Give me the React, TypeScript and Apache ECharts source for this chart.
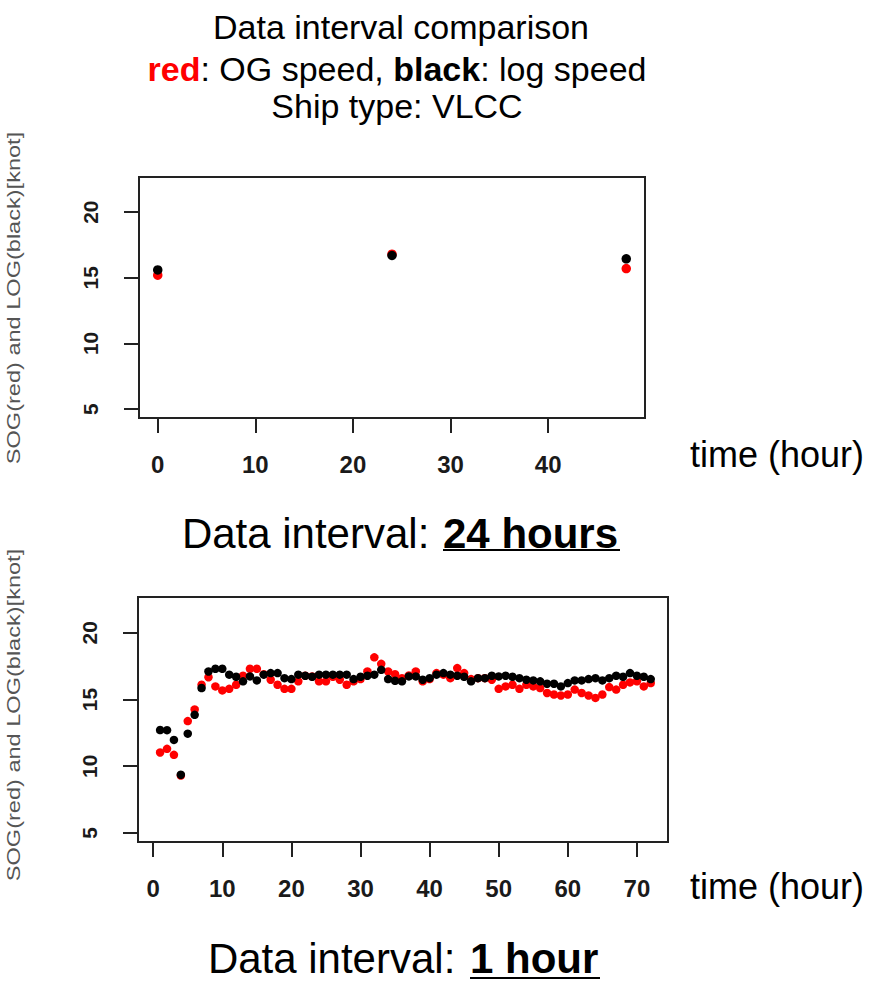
import React, { useEffect, useRef } from "react";
import * as echarts from "echarts";

// ---- data ----
const dailyHours = [0, 24, 48];
const dailySog = [15.2, 16.8, 15.7]; // red: over-ground speed
const dailyLog = [15.6, 16.7, 16.45]; // black: log speed

const hourlyHours = [
  1, 2, 3, 4, 5, 6, 7, 8, 9, 10, 11, 12, 13, 14, 15, 16, 17, 18, 19, 20, 21, 22, 23, 24,
  25, 26, 27, 28, 29, 30, 31, 32, 33, 34, 35, 36, 37, 38, 39, 40, 41, 42, 43, 44, 45, 46, 47, 48,
  49, 50, 51, 52, 53, 54, 55, 56, 57, 58, 59, 60, 61, 62, 63, 64, 65, 66, 67, 68, 69, 70, 71, 72,
];
const hourlySog = [
  11.03, 11.3, 10.85, 9.3, 13.38, 14.25, 16.1, 16.67, 15.98, 15.68, 15.8, 16.1,
  16.78, 17.3, 17.3, 16.9, 16.48, 16.1, 15.8, 15.8, 16.36, 16.78, 16.73, 16.36,
  16.36, 16.7, 16.48, 16.1, 16.36, 16.53, 17.1, 18.16, 17.67, 17.1, 16.9, 16.6,
  16.8, 17.1, 16.36, 16.53, 16.98, 16.86, 16.6, 17.35, 16.98, 16.53, 16.6, 16.6,
  16.48, 15.8, 15.98, 16.1, 15.8, 16.1, 15.98, 15.86, 15.49, 15.37, 15.3, 15.37,
  15.74, 15.49, 15.3, 15.12, 15.37, 15.93, 15.74, 16.1, 16.28, 16.36, 15.98, 16.23,
];
const hourlyLog = [
  12.71, 12.7, 11.97, 9.36, 12.44, 13.85, 15.86, 17.1, 17.3, 17.3, 16.86, 16.7,
  16.36, 16.73, 16.43, 16.86, 16.98, 16.98, 16.6, 16.53, 16.86, 16.78, 16.7, 16.86,
  16.86, 16.86, 16.86, 16.86, 16.53, 16.7, 16.78, 16.86, 17.22, 16.53, 16.4, 16.36,
  16.73, 16.73, 16.48, 16.6, 16.86, 16.98, 16.86, 16.78, 16.7, 16.36, 16.6, 16.6,
  16.78, 16.73, 16.78, 16.7, 16.6, 16.48, 16.43, 16.36, 16.18, 16.18, 15.98, 16.23,
  16.43, 16.43, 16.53, 16.6, 16.43, 16.6, 16.78, 16.7, 16.98, 16.78, 16.7, 16.53,
];

const dailyXTicks = [0, 10, 20, 30, 40];
const hourlyXTicks = [0, 10, 20, 30, 40, 50, 60, 70];
const yTicks = [5, 10, 15, 20];

const FONT = "'Liberation Sans', Arial, Helvetica, sans-serif";

const zip = (xs: number[], ys: number[]) => xs.map((x, i) => [x, ys[i]]);

function xAxis(gridIndex: number, min: number, max: number, ticks: number[]) {
  return {
    type: "value",
    gridIndex,
    min,
    max,
    axisLine: { show: true, onZero: false, lineStyle: { color: "#222", width: 2 } },
    axisTick: { show: true, inside: false, length: 15, customValues: ticks, lineStyle: { color: "#222", width: 2 } },
    axisLabel: {
      customValues: ticks,
      margin: 34,
      fontSize: 24,
      fontWeight: "bold",
      color: "#1a1a1a",
      fontFamily: FONT,
    },
    splitLine: { show: false },
  };
}

function yAxis(gridIndex: number) {
  return {
    type: "value",
    gridIndex,
    min: 4.32,
    max: 22.68,
    axisLine: { show: true, onZero: false, lineStyle: { color: "#222", width: 2 } },
    axisTick: { show: true, inside: false, length: 15, customValues: yTicks, lineStyle: { color: "#222", width: 2 } },
    axisLabel: {
      customValues: yTicks,
      rotate: 90,
      margin: 38,
      fontSize: 21,
      fontWeight: "bold",
      color: "#1a1a1a",
      fontFamily: FONT,
    },
    splitLine: { show: false },
  };
}

function textEl(text: string, x: number, y: number, size: number, extra: any = {}, el: any = {}) {
  return {
    type: "text",
    x,
    y,
    ...el,
    style: {
      text,
      fontSize: size,
      fontFamily: FONT,
      fill: "#000",
      textAlign: "center",
      textVerticalAlign: "middle",
      ...extra,
    },
  };
}

export default function App() {
  const ref = useRef<HTMLDivElement>(null);

  useEffect(() => {
    if (!ref.current) return;
    const chart = echarts.init(ref.current, null, { renderer: "svg" });

    const yName = "SOG(red) and LOG(black)[knot]";
    const option: any = {
      animation: false,
      backgroundColor: "#fff",
      grid: [
        { left: 139, top: 177, width: 506, height: 241, show: true, borderColor: "#222", borderWidth: 2, backgroundColor: "transparent" },
        { left: 138, top: 597, width: 530, height: 245, show: true, borderColor: "#222", borderWidth: 2, backgroundColor: "transparent" },
      ],
      xAxis: [
        xAxis(0, -1.92, 49.92, dailyXTicks),
        xAxis(1, -2.2, 74.5, hourlyXTicks),
      ],
      yAxis: [yAxis(0), yAxis(1)],
      series: [
        {
          name: "SOG daily",
          type: "scatter",
          xAxisIndex: 0,
          yAxisIndex: 0,
          symbolSize: 9.5,
          itemStyle: { color: "#ff0000", opacity: 1 },
          data: zip(dailyHours, dailySog),
        },
        {
          name: "LOG daily",
          type: "scatter",
          xAxisIndex: 0,
          yAxisIndex: 0,
          symbolSize: 9.5,
          itemStyle: { color: "#000000", opacity: 1 },
          data: zip(dailyHours, dailyLog),
        },
        {
          name: "SOG hourly",
          type: "scatter",
          xAxisIndex: 1,
          yAxisIndex: 1,
          symbolSize: 8.5,
          itemStyle: { color: "#ff0000", opacity: 1 },
          data: zip(hourlyHours, hourlySog),
        },
        {
          name: "LOG hourly",
          type: "scatter",
          xAxisIndex: 1,
          yAxisIndex: 1,
          symbolSize: 8.5,
          itemStyle: { color: "#000000", opacity: 1 },
          data: zip(hourlyHours, hourlyLog),
        },
      ],
      graphic: [
        textEl("Data interval comparison", 401, 27, 34),
        {
          type: "text",
          x: 397,
          y: 69,
          style: {
            text: "{r|red}: OG speed, {b|black}: log speed",
            fontSize: 34,
            fontFamily: FONT,
            fill: "#000",
            textAlign: "center",
            textVerticalAlign: "middle",
            rich: {
              r: { fill: "#ff0000", color: "#ff0000", fontWeight: "bold", fontSize: 34, fontFamily: FONT },
              b: { fill: "#000", color: "#000", fontWeight: "bold", fontSize: 34, fontFamily: FONT },
            },
          },
        },
        textEl("Ship type: VLCC", 397, 106, 34),
        // y axis titles (rotated, stretched along their length)
        textEl(yName, 14, 298, 19, { fill: "#555" }, { rotation: Math.PI / 2, scaleX: 1.24 }),
        textEl(yName, 14, 715, 19, { fill: "#555" }, { rotation: Math.PI / 2, scaleX: 1.24 }),
        // x axis titles
        textEl("time (hour)", 690, 454, 36, { textAlign: "left" }),
        textEl("time (hour)", 690, 886, 36, { textAlign: "left" }),
        // subtitle 1
        textEl("Data interval: ", 441, 533, 42, { textAlign: "right" }),
        textEl("24 hours", 443, 533, 42, { textAlign: "left", fontWeight: "bold" }),
        { type: "line", shape: { x1: 443, y1: 550, x2: 620, y2: 550 }, style: { stroke: "#000", lineWidth: 2 } },
        // subtitle 2
        textEl("Data interval: ", 467, 958, 42, { textAlign: "right" }),
        textEl("1 hour", 470, 958, 42, { textAlign: "left", fontWeight: "bold" }),
        { type: "line", shape: { x1: 470, y1: 978, x2: 600, y2: 978 }, style: { stroke: "#000", lineWidth: 2 } },
      ],
    };

    chart.setOption(option);
    return () => chart.dispose();
  }, []);

  return (
    <div
      ref={ref}
      style={{ position: "fixed", left: 0, top: 0, width: 886, height: 983, background: "#fff" }}
    />
  );
}
